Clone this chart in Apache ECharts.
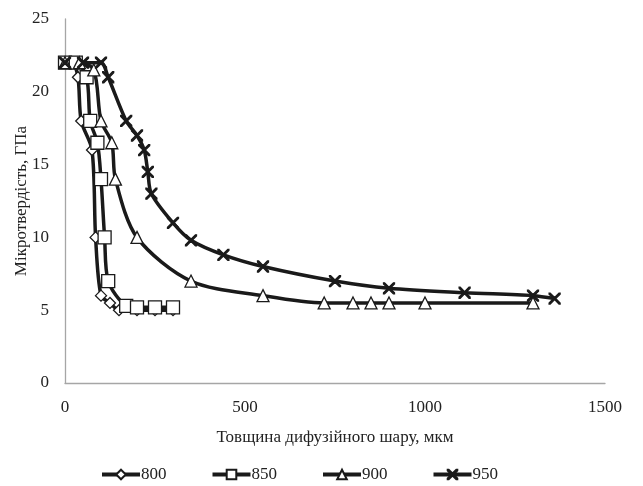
<!DOCTYPE html>
<html>
<head>
<meta charset="utf-8">
<script src="https://cdn.jsdelivr.net/npm/echarts@6/dist/echarts.min.js"></script>
<style>
  html, body { margin: 0; padding: 0; background: #fff; }
  #chart { width: 643px; height: 486px; }
</style>
</head>
<body>
<div id="chart"></div>
<script>
// дані: [товщина, мкм ; мікротвердість, ГПа]
var names = ['800', '850', '900', '950'];
var s800 = [[0,22],[20,22],[36,21],[45,18],[75,16],[85,10],[100,6],[125,5.5],[150,5],[200,5],[250,5],[300,5]];
var s850 = [[0,22],[30,22],[60,21],[70,18],[90,16.5],[100,14],[110,10],[120,7],[170,5.3],[200,5.2],[250,5.2],[300,5.2]];
var s900 = [[0,22],[40,22],[80,21.5],[100,18],[130,16.5],[140,14],[200,10],[350,7],[550,6],[720,5.5],[800,5.5],[850,5.5],[900,5.5],[1000,5.5],[1300,5.5]];
var s950 = [[0,22],[50,22],[100,22],[120,21],[170,18],[200,17],[220,16],[230,14.5],[240,13],[300,11],[350,9.8],[440,8.8],[550,8],[750,7],[900,6.5],[1110,6.2],[1300,6],[1360,5.8]];
var xTicks = [0, 500, 1000, 1500];
var yTicks = [0, 5, 10, 15, 20, 25];

var crossPath = 'path://M0,0 L2,0 L10,8 L18,0 L20,0 L20,2 L12,10 L20,18 L20,20 L18,20 L10,12 L2,20 L0,20 L0,18 L8,10 L0,2 Z';
var font = 'Liberation Serif';

function mkSeries(name, data, symbol, size, fill) {
    return {
        name: name,
        type: 'line',
        data: data,
        smooth: 0.3,
        symbol: symbol,
        symbolSize: size,
        showAllSymbol: true,
        lineStyle: { color: '#1a1a1a', width: 3.5 },
        itemStyle: { color: fill, borderColor: '#1a1a1a', borderWidth: 1.3 },
        emphasis: { disabled: true }
    };
}

var chart = echarts.init(document.getElementById('chart'));
var option = {
    animation: false,
    textStyle: { fontFamily: font },
    grid: { left: 65, right: 38, top: 19, bottom: 103, containLabel: false, outerBoundsMode: 'none' },
    legend: {
        left: 95,
        top: 461,
        itemWidth: 38,
        itemHeight: 12,
        itemGap: 44,
        lineStyle: { width: 4 },
        textStyle: { fontFamily: font, fontSize: 17, color: '#222', padding: [0, 0, 0, -4] },
        data: names
    },
    xAxis: {
        type: 'value',
        min: xTicks[0],
        max: xTicks[xTicks.length - 1],
        interval: 500,
        name: 'Товщина дифузійного шару, мкм',
        nameLocation: 'middle',
        nameGap: 46,
        nameMoveOverlap: false,
        nameTextStyle: { fontFamily: font, fontSize: 17, color: '#222' },
        axisLine: { lineStyle: { color: '#a6a6a6', width: 1.3 } },
        axisTick: { show: false },
        splitLine: { show: false },
        axisLabel: { fontFamily: font, fontSize: 17, color: '#222', margin: 16, formatter: function (v) { return String(v); } }
    },
    yAxis: {
        type: 'value',
        min: yTicks[0],
        max: yTicks[yTicks.length - 1],
        interval: 5,
        name: 'Мікротвердість, ГПа',
        nameLocation: 'middle',
        nameGap: 35,
        nameMoveOverlap: false,
        nameTextStyle: { fontFamily: font, fontSize: 17, color: '#222' },
        axisLine: { show: true, lineStyle: { color: '#a6a6a6', width: 1.3 } },
        axisTick: { show: false },
        splitLine: { show: false },
        axisLabel: { fontFamily: font, fontSize: 17, color: '#222', margin: 16 }
    },
    series: [
        mkSeries(names[0], s800, 'diamond', 11, '#fff'),
        mkSeries(names[1], s850, 'rect', 13, '#fff'),
        mkSeries(names[2], s900, 'triangle', 12, '#fff'),
        mkSeries(names[3], s950, crossPath, 11, '#1a1a1a')
    ]
};
chart.setOption(option);
</script>
</body>
</html>
